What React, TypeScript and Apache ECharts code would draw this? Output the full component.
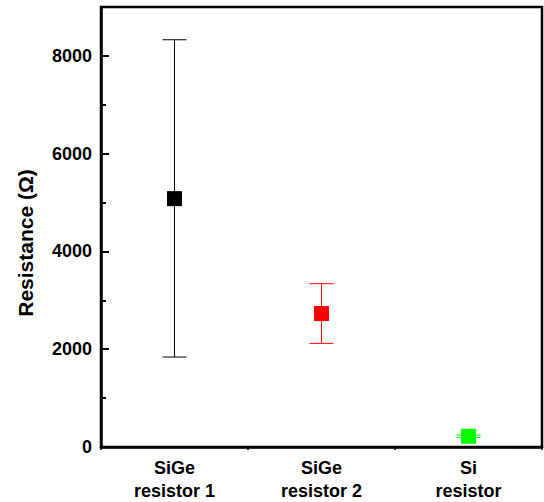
import React, { useEffect, useRef } from "react";
import * as echarts from "echarts";

const categories = ["SiGe\nresistor 1", "SiGe\nresistor 2", "Si\nresistor"];
const means = [5080, 2730, 220];
const lows = [1840, 2120, 195];
const highs = [8330, 3340, 245];
const colors = ["#000000", "#ff0000", "#00ff00"];
const yLabels = [0, 2000, 4000, 6000, 8000];

const FONT = 'Arial, "Liberation Sans", sans-serif';

export default function App() {
  const ref = useRef<HTMLDivElement>(null);
  useEffect(() => {
    if (!ref.current) return;
    const chart = echarts.init(ref.current, null, { renderer: "svg" });
    const errData = categories.map((_, i) => [i, lows[i], highs[i], i]);
    const ptData = categories.map((_, i) => ({
      value: [i, means[i]],
      itemStyle: { color: colors[i], opacity: 1 },
    }));
    chart.setOption({
      animation: false,
      backgroundColor: "#ffffff",
      grid: {
        left: 101,
        right: 2,
        top: 7,
        bottom: 55,
        show: true,
        borderColor: "#000",
        borderWidth: 2.5,
        backgroundColor: "transparent",
      },
      graphic: [
        {
          type: "text",
          x: 25,
          y: 243,
          rotation: Math.PI / 2,
          style: {
            text: "Resistance (Ω)",
            font: `bold 21px ${FONT}`,
            fill: "#000",
            textAlign: "center",
            textVerticalAlign: "middle",
          },
        },
      ],
      xAxis: [
        {
          type: "category",
          data: categories,
          boundaryGap: true,
          axisLine: { lineStyle: { color: "#000", width: 2.5 } },
          axisTick: {
            alignWithLabel: true,
            inside: true,
            length: 8,
            lineStyle: { color: "#000", width: 2 },
          },
          axisLabel: {
            color: "#000",
            fontFamily: FONT,
            fontWeight: "bold",
            fontSize: 18,
            lineHeight: 23,
            margin: 9,
          },
          splitLine: { show: false },
        },
        {
          type: "category",
          data: categories,
          position: "bottom",
          boundaryGap: true,
          axisLine: { show: false },
          axisTick: { show: true, inside: false, length: 3, lineStyle: { color: "#000", width: 1.5 } },
          axisLabel: { show: false },
          splitLine: { show: false },
        },
      ],
      yAxis: [
        {
          type: "value",
          min: 0,
          max: 9000,
          interval: 2000,
          axisLine: { show: true, lineStyle: { color: "#000", width: 2.5 } },
          axisTick: {
            show: true,
            inside: true,
            length: 8,
            lineStyle: { color: "#000", width: 2 },
          },
          axisLabel: {
            color: "#000",
            fontFamily: FONT,
            fontWeight: "bold",
            fontSize: 18,
            margin: 9,
            showMaxLabel: false,
            formatter: (v: number) => (yLabels.includes(v) ? String(v) : ""),
          },
          splitLine: { show: false },
        },
        {
          type: "value",
          min: 0,
          max: 9000,
          interval: 1000,
          position: "left",
          axisLine: { show: false },
          axisTick: {
            show: true,
            inside: true,
            length: 5,
            lineStyle: { color: "#000", width: 2 },
          },
          axisLabel: { show: false },
          splitLine: { show: false },
        },
      ],
      series: [
        {
          type: "custom",
          xAxisIndex: 0,
          yAxisIndex: 0,
          data: errData,
          renderItem: (params: any, api: any) => {
            const x = api.value(0);
            const lo = api.coord([x, api.value(1)]);
            const hi = api.coord([x, api.value(2)]);
            const c = colors[api.value(3)];
            const half = 12;
            const style = { stroke: c, lineWidth: 1 };
            return {
              type: "group",
              children: [
                { type: "line", shape: { x1: lo[0], y1: lo[1], x2: hi[0], y2: hi[1] }, style },
                { type: "line", shape: { x1: hi[0] - half, y1: hi[1], x2: hi[0] + half, y2: hi[1] }, style },
                { type: "line", shape: { x1: lo[0] - half, y1: lo[1], x2: lo[0] + half, y2: lo[1] }, style },
              ],
            };
          },
          z: 2,
        },
        {
          type: "scatter",
          xAxisIndex: 0,
          yAxisIndex: 0,
          symbol: "rect",
          symbolSize: 15,
          data: ptData,
          z: 3,
        },
      ],
    });
    return () => chart.dispose();
  }, []);
  return (
    <div
      ref={ref}
      style={{ position: "fixed", left: 0, top: 0, width: 544, height: 502 }}
    />
  );
}
